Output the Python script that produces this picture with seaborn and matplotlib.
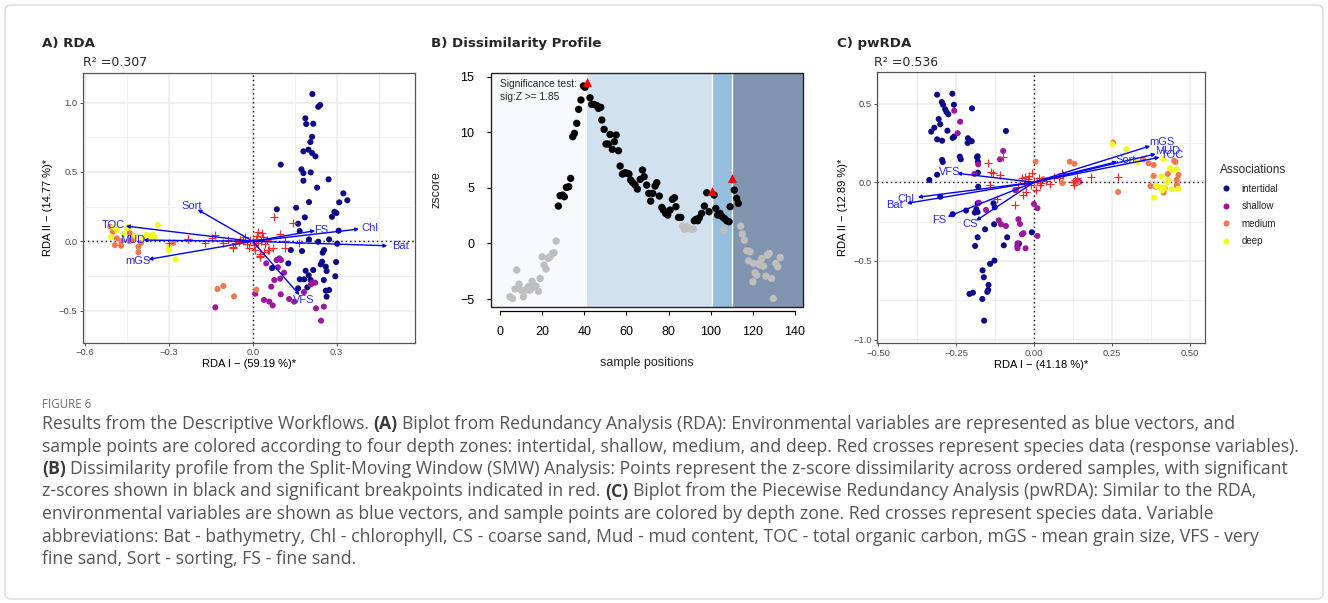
import numpy as np
import pandas as pd
import matplotlib
matplotlib.use("Agg")
import matplotlib.pyplot as plt
import seaborn as sns
from matplotlib.patches import FancyBboxPatch, Rectangle
from matplotlib.transforms import IdentityTransform

# ---------------------------------------------------------------- data
zones = ["intertidal", "shallow", "medium", "deep"]
zone_colors = ["#0D0887", "#9C179E", "#ED7953", "#F0F921"]

# Panel A (RDA) sample scores by depth zone
A_int_x = [0.213, 0.234, 0.241, 0.188, 0.191, 0.216, 0.212, 0.206, 0.181, 0.199, 0.212, 0.224, 0.100, 0.174,
           0.181, 0.207, 0.181, 0.271, 0.230, 0.324, 0.338, 0.309, 0.201, 0.155, 0.086, 0.292, 0.299, 0.283,
           0.186, 0.162, 0.168, 0.307, 0.201, 0.234, 0.273, 0.302, 0.176, 0.255, 0.250, 0.298, 0.248, 0.243,
           0.261, 0.264, 0.069, 0.127, 0.189, 0.216, 0.168, 0.184, 0.200, 0.207, 0.295, 0.254, 0.162, 0.195,
           0.261, 0.273, 0.264, 0.136]
A_int_y = [1.062, 0.970, 0.983, 0.887, 0.846, 0.848, 0.754, 0.716, 0.649, 0.661, 0.637, 0.613, 0.553, 0.519,
           0.492, 0.497, 0.437, 0.447, 0.387, 0.346, 0.296, 0.281, 0.283, 0.242, 0.231, 0.213, 0.204, 0.177,
           0.173, 0.127, 0.074, 0.077, 0.014, -0.003, 0.014, -0.017, -0.070, -0.063, -0.082, -0.149, -0.147,
           -0.166, -0.183, -0.214, -0.193, -0.159, -0.212, -0.207, -0.274, -0.274, -0.245, -0.279, -0.252,
           -0.279, -0.339, -0.332, -0.356, -0.351, -0.399, -0.063]
A_sha_x = [0.095, 0.101, 0.090, 0.112, 0.098, 0.077, 0.066, 0.009, 0.040, 0.059, 0.071, 0.100, 0.130, 0.148,
           0.183, 0.212, 0.223, 0.226, 0.254, 0.244, -0.134, 0.208, 0.048, 0.085]
A_sha_y = [-0.123, -0.135, -0.187, -0.226, -0.269, -0.279, -0.327, -0.378, -0.423, -0.435, -0.462, -0.382,
           -0.416, -0.435, -0.366, -0.301, -0.298, -0.483, -0.471, -0.572, -0.476, -0.310, -0.159, -0.135]
A_med_x = [-0.509, -0.500, -0.493, -0.471, -0.409, -0.409, -0.399, -0.284, -0.486, -0.126, -0.105, -0.067,
           0.013, -0.440, -0.470, -0.430, -0.442]
A_med_y = [0.105, 0.069, -0.027, -0.032, -0.039, -0.079, -0.010, -0.010, 0.022, -0.344, -0.322, -0.397,
           -0.349, 0.060, 0.000, 0.020, 0.002]
A_deep_x = [-0.339, -0.438, -0.450, -0.379, -0.367, -0.357, -0.498, -0.486, -0.462, -0.507, -0.300, -0.299,
            -0.276, -0.391, -0.420, -0.350]
A_deep_y = [0.118, 0.105, 0.094, 0.045, 0.038, 0.048, 0.101, 0.081, 0.053, 0.033, -0.063, -0.043, -0.130,
            0.022, 0.040, 0.030]
A_sp_x = [0.077, 0.145, -0.230, 0.098, 0.115, 0.115, 0.056, 0.026, 0.026, 0.167, 0.059, 0.074, 0.032, 0.038,
          0.020, 0.012, 0.026, -0.069, -0.063, -0.301, -0.232, -0.170, -0.146, -0.135, -0.105, -0.069, -0.087,
          -0.045, -0.027, 0.000, 0.010, -0.010, 0.020, -0.020, 0.005, 0.030, -0.035, 0.015, 0.045, -0.015,
          0.050, 0.008, -0.050, 0.040]
A_sp_y = [0.173, 0.130, 0.014, 0.053, 0.002, -0.050, -0.063, -0.092, -0.111, -0.015, -0.063, -0.050, 0.058,
          0.033, 0.069, -0.015, -0.104, -0.039, -0.015, -0.015, 0.014, -0.010, 0.022, 0.045, -0.010, -0.050,
          0.009, 0.009, 0.033, 0.000, 0.020, 0.010, -0.010, -0.020, -0.030, 0.000, 0.005, 0.040, -0.020,
          -0.045, 0.010, -0.060, -0.005, -0.075]
A_vec_names = ["Sort", "TOC", "MUD", "mGS", "FS", "Chl", "Bat", "VFS"]
A_vec_x = [-0.197, -0.454, -0.391, -0.373, 0.223, 0.380, 0.481, 0.167]
A_vec_y = [0.229, 0.110, 0.009, -0.130, 0.077, 0.089, -0.032, -0.387]

# Panel B (dissimilarity profile)
sample_pos = [4.7, 5.9, 7.1, 7.9, 9.0, 10.0, 11.1, 12.2, 13.3, 14.2, 15.0, 15.2, 16.1, 17.1, 18.2, 19.0, 20.0,
              20.9, 21.8, 22.8, 23.7, 24.8, 25.6, 26.6,
              27.7, 28.5, 29.7, 30.5, 31.5, 32.6, 33.5, 34.5, 35.3, 36.4, 37.3, 38.4, 39.6, 40.3,
              42.7, 43.5, 44.6, 45.9, 46.7, 47.8, 48.3, 49.4, 50.3, 51.4, 52.2, 53.3, 54.3, 55.1, 56.2, 57.0,
              58.1, 59.3, 60.4, 61.2, 62.0, 63.0, 64.1, 65.2, 66.5, 67.6, 68.4, 69.6, 70.6, 71.5, 72.5, 73.6,
              74.4, 75.6, 76.8, 77.5, 78.6, 79.6, 80.7, 81.8, 82.8, 83.5, 84.7, 85.8,
              86.7, 87.5, 88.6, 89.7, 91.0, 91.8,
              92.2, 93.0, 93.8, 94.6, 95.7, 97.0, 98.1, 99.2, 101.6, 102.4, 103.3, 104.4, 105.5, 106.3, 106.5,
              107.6, 108.7, 109.2, 111.2, 112.3, 113.1,
              114.2, 115.0, 116.0, 117.1, 117.9, 118.7, 120.0, 120.3, 121.0, 121.8, 122.6, 123.4, 124.2, 125.0,
              126.1, 126.9, 127.8, 128.9, 129.7, 130.9, 131.8, 133.0]
zscore = [-4.8, -4.95, -4.1, -2.4, -3.66, -4.2, -4.8, -4.2, -3.9, -4.2, -3.9, -3.4, -3.9, -3.84, -4.3, -3.15, -1.2,
          -1.95, -2.3, -1.35, -1.2, -0.9, -0.84, 0.21,
          3.36, 4.29, 4.35, 4.2, 5.04, 5.1, 5.85, 9.6, 9.9, 10.8, 12.06, 12.9, 14.16, 14.04,
          13.1, 12.5, 12.5, 12.4, 12.15, 12.24, 11.1, 10.26, 8.94, 8.94, 9.8, 8.46, 9.15, 9.75, 8.34, 6.96,
          6.24, 6.36, 6.3, 6.24, 5.7, 5.46, 5.25, 4.89, 5.76, 6.6, 6.0, 5.25, 4.5, 3.81, 4.5, 5.16,
          5.46, 4.26, 3.24, 3.0, 2.7, 2.55, 3.0, 3.96, 4.11, 3.3, 2.34, 2.34,
          1.56, 1.26, 1.5, 1.35, 1.26, 1.29,
          2.04, 2.16, 2.04, 2.31, 2.7, 3.36, 4.56, 2.85, 4.35, 3.15, 2.55, 2.7, 2.4, 1.2, 2.25,
          2.04, 1.95, 3.3, 4.8, 4.05, 3.6,
          1.56, 0.84, 0.3, -0.66, -1.56, -0.75, -3.45, -1.8, -2.64, -2.85, -1.8, -1.95, -1.35, -2.04,
          -2.94, -1.05, -0.9, -3.15, -4.95, -1.8, -2.1, -1.26]
sig_threshold = 1.85
break_pos = [41.5, 100.6, 110.3]
break_z = [14.5, 4.7, 5.9]
region_colors = ["#F7F9FD", "#D2E1F0", "#96BEDE", "#8093AF"]

# Panel C (pwRDA)
C_int_x = [-0.311, -0.262, -0.296, -0.292, -0.257, -0.285, -0.281, -0.275, -0.199, -0.306, -0.320, -0.330,
           -0.301, -0.278, -0.311, -0.295, -0.261, -0.256, -0.212, -0.206, -0.213, -0.200, -0.090, -0.295,
           -0.293, -0.238, -0.235, -0.181, -0.183, -0.180, -0.311, -0.336, -0.180, -0.179, -0.301,
           -0.261, -0.218, -0.185, -0.181, -0.190, -0.181, -0.130, -0.126, -0.128, -0.157, -0.086, -0.097,
           -0.181, -0.189, -0.007, -0.048, -0.053, -0.127, -0.141, -0.165, -0.161, -0.146, -0.147, -0.150,
           -0.207, -0.196, -0.166, -0.160]
C_int_y = [0.557, 0.563, 0.510, 0.493, 0.493, 0.464, 0.447, 0.432, 0.470, 0.402, 0.347, 0.322, 0.369, 0.328,
           0.273, 0.264, 0.282, 0.290, 0.280, 0.264, 0.250, 0.261, 0.326, 0.142, 0.129, 0.163, 0.146, 0.165,
           0.159, 0.131, 0.048, 0.015, 0.061, -0.028, -0.092,
           -0.203, -0.180, -0.172, -0.189, -0.193, -0.134, -0.134, -0.159, -0.267, -0.299, -0.350, -0.401,
           -0.350, -0.405, -0.318, -0.390, -0.405, -0.498, -0.519, -0.560, -0.604, -0.653, -0.685, -0.697,
           -0.710, -0.702, -0.742, -0.880]
C_sha_x = [-0.256, -0.237, -0.245, -0.099, -0.109, -0.179, -0.191, -0.177, -0.154, -0.113, -0.106, -0.090,
           -0.050, -0.045, -0.039, -0.034, -0.053, -0.053, -0.027, 0.000, 0.011, 0.011, 0.145, -0.060]
C_sha_y = [0.455, 0.385, 0.312, 0.199, 0.146, 0.114, 0.053, -0.130, -0.176, -0.242, -0.267, -0.278, -0.235,
           -0.265, -0.331, -0.324, -0.388, -0.420, -0.420, -0.138, -0.165, -0.341, 0.002, -0.050]
C_med_x = [0.254, 0.005, 0.115, 0.130, 0.270, 0.350, 0.368, 0.384, 0.450, 0.454, 0.384, 0.374, 0.390, 0.464,
           0.458, 0.458, 0.460, 0.416, 0.420, 0.430, 0.091, 0.139, 0.030]
C_med_y = [0.252, 0.131, 0.131, 0.118, -0.062, 0.146, 0.121, 0.110, 0.137, 0.129, 0.040, -0.024, -0.028,
           0.046, 0.015, -0.017, -0.028, -0.066, -0.038, 0.053, -0.005, 0.000, 0.020]
C_deep_x = [0.252, 0.296, 0.324, 0.332, 0.416, 0.437, 0.446, 0.458, 0.410, 0.430, 0.427, 0.392, 0.405, 0.418,
            0.411, 0.442, 0.463, 0.386]
C_deep_y = [0.242, 0.210, 0.142, 0.125, 0.146, 0.089, 0.078, 0.083, 0.036, 0.015, 0.000, -0.024, -0.028,
            -0.038, -0.053, -0.045, -0.041, -0.098]
C_sp_x = [-0.147, -0.138, -0.133, -0.109, -0.141, -0.099, -0.119, -0.061, -0.030, 0.064, 0.091, 0.128, 0.125,
          0.183, 0.269, 0.094, 0.080, 0.021, 0.133, 0.139, 0.000, -0.020, -0.010, 0.010, -0.030, -0.015,
          0.020, -0.040, 0.005, -0.025, 0.040, -0.050, 0.015, -0.005, -0.035, 0.050]
C_sp_y = [0.121, 0.067, 0.057, 0.046, -0.017, 0.159, -0.108, -0.144, 0.036, 0.036, 0.057, -0.017, 0.000,
          0.032, 0.032, 0.045, 0.025, -0.006, 0.015, 0.025, 0.000, 0.020, -0.020, 0.010, -0.010, 0.040,
          -0.015, 0.030, -0.050, -0.060, 0.005, -0.030, 0.025, 0.060, -0.080, -0.010]
C_vec_names = ["mGS", "MUD", "TOC", "Sort", "VFS", "Chl", "Bat", "FS", "CS"]
C_vec_x = [0.373, 0.391, 0.403, 0.267, -0.247, -0.373, -0.408, -0.277, -0.186]
C_vec_y = [0.231, 0.180, 0.159, 0.131, 0.057, -0.095, -0.134, -0.219, -0.244]

caption_lines = [
    [("Results from the Descriptive Workflows.", False), ("(A)", True),
     ("Biplot from Redundancy Analysis (RDA): Environmental variables are represented as blue vectors, and", False)],
    [("sample points are colored according to four depth zones: intertidal, shallow, medium, and deep. "
      "Red crosses represent species data (response variables).", False)],
    [("(B)", True),
     ("Dissimilarity profile from the Split-Moving Window (SMW) Analysis: Points represent the z-score "
      "dissimilarity across ordered samples, with significant", False)],
    [("z-scores shown in black and significant breakpoints indicated in red.", False), ("(C)", True),
     ("Biplot from the Piecewise Redundancy Analysis (pwRDA): Similar to the RDA,", False)],
    [("environmental variables are shown as blue vectors, and sample points are colored by depth zone. "
      "Red crosses represent species data. Variable", False)],
    [("abbreviations: Bat - bathymetry, Chl - chlorophyll, CS - coarse sand, Mud - mud content, TOC - total "
      "organic carbon, mGS - mean grain size, VFS - very", False)],
    [("fine sand, Sort - sorting, FS - fine sand.", False)],
]

# ---------------------------------------------------------------- setup
sns.set_theme(style="white")
plt.rcParams['font.family'] = ['Liberation Sans', 'DejaVu Sans']
plt.rcParams['axes.unicode_minus'] = True

W, H = 1328, 603
fig = plt.figure(figsize=(W / 100, H / 100), dpi=100)
fig.patch.set_facecolor('white')


def fy(py):
    return 1 - py / H


def axrect(l, t, r, b):
    return [l / W, 1 - b / H, (r - l) / W, (b - t) / H]


# outer frame
fig.add_artist(FancyBboxPatch((5, 4), W - 10, H - 9, boxstyle="round,pad=0,rounding_size=6",
                              transform=IdentityTransform(), facecolor='none',
                              edgecolor='#DADADA', lw=1.0))


def make_samples(xs, ys):
    rows = []
    for z, (x, y) in zip(zones, zip(xs, ys)):
        for a, b in zip(x, y):
            rows.append((a, b, z))
    return pd.DataFrame(rows, columns=["x", "y", "zone"])


def biplot(ax, df, spx, spy, vnames, vx, vy, xlim, ylim, xt, xtl, yt, ytl, xmin, ymin, xlabel, ylabel,
           legend):
    ax.set_xlim(xlim)
    ax.set_ylim(ylim)
    ax.set_facecolor('white')
    ax.set_xticks(xt)
    ax.set_xticklabels(xtl)
    ax.set_yticks(yt)
    ax.set_yticklabels(ytl)
    ax.set_xticks(xmin, minor=True)
    ax.set_yticks(ymin, minor=True)
    ax.set_axisbelow(True)
    ax.grid(True, which='major', color='#EBEBEB', lw=1.1)
    ax.grid(True, which='minor', color='#EFEFEF', lw=0.6)
    for s in ax.spines.values():
        s.set_visible(True)
        s.set_color('#555555')
        s.set_linewidth(0.9)
    ax.tick_params(which='major', bottom=True, left=True, direction='out', length=2.5, width=0.6,
                   color='#333333', labelsize=6.8, labelcolor='#4D4D4D', pad=1.5)
    ax.tick_params(which='minor', bottom=False, left=False, length=0)
    ax.axhline(0, color='black', ls=(0, (1, 2.2)), lw=1.0, zorder=2)
    ax.axvline(0, color='black', ls=(0, (1, 2.2)), lw=1.0, zorder=2)
    sns.scatterplot(data=df, x="x", y="y", hue="zone", hue_order=zones, palette=zone_colors, s=19,
                    edgecolor='none', linewidth=0, ax=ax, legend=legend, zorder=3)
    ax.scatter(spx, spy, marker='+', s=40, color='#FF2626', linewidths=0.85, zorder=4)
    for n, x, y in zip(vnames, vx, vy):
        ax.annotate('', xy=(x, y), xytext=(0, 0),
                    arrowprops=dict(arrowstyle='-|>', mutation_scale=5, color='#0000FF', lw=1.0,
                                    shrinkA=0, shrinkB=0), zorder=5)
        ax.text(1.1 * x, 1.1 * y, n, color='#2A2AFF', fontsize=8, ha='center', va='center', zorder=6)
    ax.set_xlabel(xlabel, fontsize=8, color='black')
    ax.set_ylabel(ylabel, fontsize=8, color='black')
    ax.xaxis.label.set_va('center')
    ax.yaxis.label.set_va('center')


# ---------------------------------------------------------------- panel A
axA = fig.add_axes(axrect(83, 72.7, 415, 342.7))
dfA = make_samples([A_int_x, A_sha_x, A_med_x, A_deep_x], [A_int_y, A_sha_y, A_med_y, A_deep_y])
biplot(axA, dfA, A_sp_x, A_sp_y, A_vec_names, A_vec_x, A_vec_y, (-0.607, 0.58), (-0.731, 1.216),
       [-0.6, -0.3, 0.0, 0.3], ["\u22120.6", "\u22120.3", "0.0", "0.3"],
       [-0.5, 0.0, 0.5, 1.0], ["\u22120.5", "0.0", "0.5", "1.0"],
       [-0.45, -0.15, 0.15, 0.45], [-0.25, 0.25, 0.75],
       "RDA I \u2212 (59.19 %)*", "RDA II \u2212 (14.77 %)*", False)
axA.xaxis.set_label_coords(0.5, (342.7 - 364) / 270)
axA.yaxis.set_label_coords((48 - 83) / 332, 0.5)

# ---------------------------------------------------------------- panel C
axC = fig.add_axes(axrect(877.3, 71.7, 1205, 343.3))
dfC = make_samples([C_int_x, C_sha_x, C_med_x, C_deep_x], [C_int_y, C_sha_y, C_med_y, C_deep_y])
biplot(axC, dfC, C_sp_x, C_sp_y, C_vec_names, C_vec_x, C_vec_y, (-0.503, 0.549), (-1.024, 0.703),
       [-0.5, -0.25, 0.0, 0.25, 0.5], ["\u22120.50", "\u22120.25", "0.00", "0.25", "0.50"],
       [-1.0, -0.5, 0.0, 0.5], ["\u22121.0", "\u22120.5", "0.0", "0.5"],
       [-0.375, -0.125, 0.125, 0.375], [-0.75, -0.25, 0.25],
       "RDA I \u2212 (41.18 %)*", "RDA II \u2212 (12.89 %)*", True)
axC.xaxis.set_label_coords(0.5, (343.3 - 365) / 271.6)
axC.yaxis.set_label_coords((843.3 - 877.3) / 327.7, 0.5)
h, l = axC.get_legend_handles_labels()
axC.legend(h, l, title="Associations", loc='upper left', bbox_to_anchor=(1220 / W, fy(164)),
           bbox_transform=fig.transFigure, frameon=False, fontsize=7.0, title_fontsize=8.5,
           alignment='left', handletextpad=0.9, labelspacing=0.78, borderpad=0, handlelength=1.3,
           borderaxespad=0)

# ---------------------------------------------------------------- panel B
axB = fig.add_axes(axrect(491, 73.3, 803, 306.7))
xlB = (-4.3, 143.8)
axB.set_xlim(xlB)
axB.set_ylim(-5.69, 15.3)
edges = [xlB[0]] + break_pos + [xlB[1]]
for i, c in enumerate(region_colors):
    axB.axvspan(edges[i], edges[i + 1], color=c, lw=0, zorder=0)
for b in break_pos[1:]:
    axB.axvline(b, color='white', lw=1.0, zorder=1)
dfB = pd.DataFrame({"pos": sample_pos, "z": zscore})
dfB["sig"] = np.where(dfB["z"] >= sig_threshold, "sig", "ns")
sns.scatterplot(data=dfB, x="pos", y="z", hue="sig", palette={"sig": "black", "ns": "#BEBEBE"}, s=28,
                edgecolor='none', linewidth=0, legend=False, ax=axB, zorder=3)
axB.scatter(break_pos, break_z, marker='^', s=42, color='#FF0000', linewidths=0, zorder=4)
axB.set_xticks(range(0, 141, 20))
axB.set_yticks([-5, 0, 5, 10, 15])
axB.grid(False)
for s in axB.spines.values():
    s.set_visible(False)
axB.spines['bottom'].set_visible(True)
axB.spines['bottom'].set_position(('outward', 3))
axB.spines['bottom'].set_bounds(0, 140)
axB.spines['bottom'].set_linewidth(0.9)
axB.spines['bottom'].set_color('black')
axB.add_patch(Rectangle((0, 0), 1, 1, transform=axB.transAxes, fill=False, edgecolor='#222222', lw=1.0,
                        clip_on=False, zorder=6))
axB.tick_params(axis='both', bottom=True, left=True, direction='out', length=3.2, width=0.8, color='black',
                labelsize=9, labelcolor='black')
axB.tick_params(axis='x', pad=8)
axB.tick_params(axis='y', pad=9)
axB.set_xlabel("sample positions", fontsize=9)
axB.set_ylabel("zscore", fontsize=9)
axB.xaxis.label.set_va('center')
axB.yaxis.label.set_va('center')
axB.xaxis.set_label_coords(0.5, (306.7 - 363.3) / 233.4)
axB.yaxis.set_label_coords((437 - 491) / 312, 0.5)
axB.text((500 - 491) / 312, (306.7 - 84) / 233.4, "Significance test:", transform=axB.transAxes,
         fontsize=7.3, va='center', ha='left', zorder=2)
axB.text((500 - 491) / 312, (306.7 - 97) / 233.4, "sig:Z >= 1.85", transform=axB.transAxes,
         fontsize=7.3, va='center', ha='left', zorder=2)

# ---------------------------------------------------------------- titles
tkw = dict(family='DejaVu Sans', fontweight='bold', fontsize=9.6, va='center', ha='left')
fig.text(42 / W, fy(44), "A) RDA", **tkw)
fig.text(431 / W, fy(44), "B) Dissimilarity Profile", **tkw)
fig.text(837 / W, fy(44), "C) pwRDA", **tkw)
rkw = dict(family='DejaVu Sans', fontsize=9, va='center', ha='left')
fig.text(83 / W, fy(63), "R\u00b2 =0.307", **rkw)
fig.text(874 / W, fy(63), "R\u00b2 =0.536", **rkw)

# ---------------------------------------------------------------- caption
renderer = fig.canvas.get_renderer()
cap_family = ['Open Sans', 'DejaVu Sans']
probe = fig.text(0, 0, caption_lines[1][0][0], fontsize=11, family=cap_family)
w = probe.get_window_extent(renderer).width
probe.remove()
cap_fs = 11 * (1300 - 42) / w
p1 = fig.text(0, 0, "a a", fontsize=cap_fs, family=cap_family)
p2 = fig.text(0, 0, "aa", fontsize=cap_fs, family=cap_family)
space_w = p1.get_window_extent(renderer).width - p2.get_window_extent(renderer).width
p1.remove()
p2.remove()

fig.text(42 / W, fy(405), "FIGURE 6", fontsize=8.3, family=cap_family, color='#6E6E6E', va='center',
         ha='left')
y0, dy = 424, 22.5
for i, segs in enumerate(caption_lines):
    x = 42.0
    for txt, bold in segs:
        t = fig.text(x / W, fy(y0 + i * dy), txt, fontsize=cap_fs, family=cap_family,
                     fontweight='bold' if bold else 'normal',
                     color='#3A3A3A' if bold else '#555555', va='center', ha='left')
        x += t.get_window_extent(renderer).width + space_w

fig.savefig("out.png", dpi=100, facecolor='white')
